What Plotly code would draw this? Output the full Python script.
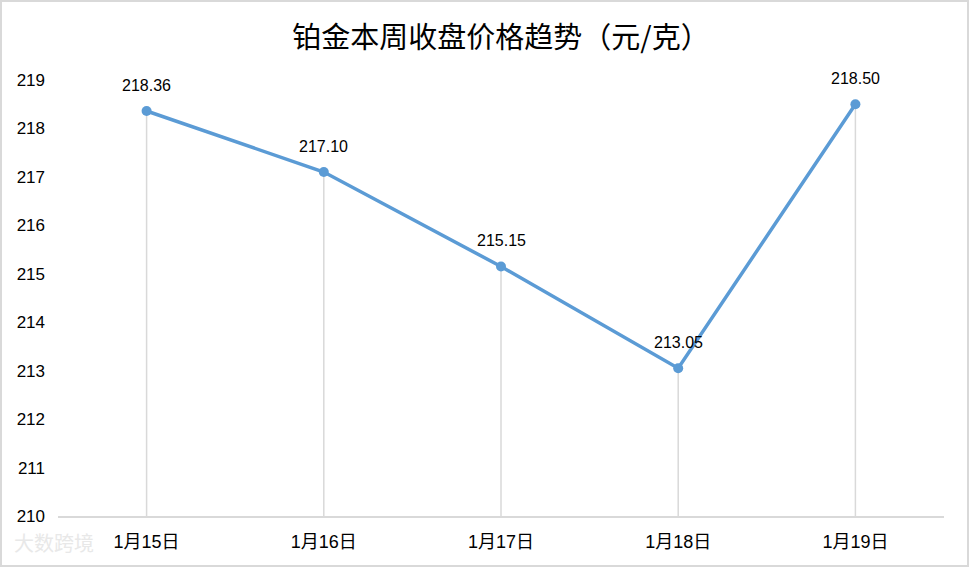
import plotly.graph_objects as go

categories = ["1月15日", "1月16日", "1月17日", "1月18日", "1月19日"]
prices = [218.36, 217.10, 215.15, 213.05, 218.50]
label_texts = ["218.36", "217.10", "215.15", "213.05", "218.50"]
y_ticks = [210, 211, 212, 213, 214, 215, 216, 217, 218, 219]
title_text = "铂金本周收盘价格趋势（元/克）"
y_min, y_max = 210, 219

FONT = "Liberation Sans, 'Noto Sans CJK SC', sans-serif"
CJK = "'Noto Sans CJK SC', 'Liberation Sans', sans-serif"

# drop lines from each point down to the axis
drop_x, drop_y = [], []
for c, v in zip(categories, prices):
    drop_x += [c, c, None]
    drop_y += [y_min, v, None]

fig = go.Figure()
fig.add_trace(go.Scatter(
    x=drop_x, y=drop_y, mode="lines",
    line=dict(color="#d9d9d9", width=1.5),
    hoverinfo="skip", showlegend=False,
))
fig.add_trace(go.Scatter(
    x=categories, y=prices, mode="lines+markers",
    line=dict(color="#5b9bd5", width=3.5),
    marker=dict(color="#5b9bd5", size=10),
    showlegend=False,
))

for c, v, t in zip(categories, prices, label_texts):
    fig.add_annotation(
        x=c, y=v, text=t, showarrow=False, yshift=26,
        font=dict(family=FONT, size=16, color="#000000"),
    )

W, H = 969, 567
ml, mr, mt, mb = 58, 25, 80, 51
pw, ph = W - ml - mr, H - mt - mb

# outer chart border
fig.add_shape(
    type="rect", xref="paper", yref="paper",
    x0=-(ml - 1) / pw, x1=1 + (mr - 1) / pw,
    y0=-(mb - 1) / ph, y1=1 + (mt - 1) / ph,
    line=dict(color="#d9d9d9", width=2), layer="below",
)

# watermark
fig.add_annotation(
    xref="paper", yref="paper", x=-(ml - 12) / pw, y=-(mb - 8) / ph,
    xanchor="left", yanchor="bottom", text="大数跨境", showarrow=False,
    font=dict(family=CJK, size=20, color="#e8e8e8"),
)

fig.update_layout(
    width=W, height=H,
    margin=dict(l=ml, r=mr, t=mt, b=mb),
    paper_bgcolor="white", plot_bgcolor="white",
    title=dict(
        text=title_text, x=0.5, xref="paper", xanchor="center",
        y=1 - 38 / H, yanchor="middle", yref="container",
        font=dict(family=CJK, size=29, color="#000000"),
    ),
    xaxis=dict(
        type="category", categoryorder="array", categoryarray=categories,
        showgrid=False, zeroline=False,
        showline=True, linecolor="#d9d9d9", linewidth=2,
        ticks="", tickfont=dict(family=FONT, size=18, color="#000000"),
        range=[-0.5, len(categories) - 0.5],
        ticklabelstandoff=8,
    ),
    yaxis=dict(
        range=[y_min, y_max], tickvals=y_ticks,
        showgrid=False, zeroline=False, showline=False, ticks="",
        tickfont=dict(family=FONT, size=17, color="#000000"),
        ticklabelstandoff=12,
    ),
)

fig.write_html(
    "out.html",
    config={"displayModeBar": False},
    post_script="document.body.style.margin='0';",
)
